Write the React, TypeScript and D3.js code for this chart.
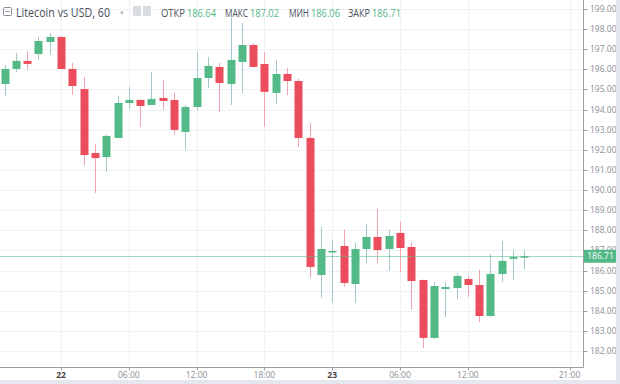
import React from "react";
import * as d3 from "d3";

const firstHour = -5;
const opens = [195.27,196.02,196.42,196.76,197.36,197.61,196.02,195.02,191.84,191.64,192.59,194.33,194.48,194.23,194.58,194.48,192.89,194.13,195.57,196.12,195.27,196.37,197.21,196.27,194.83,195.77,195.42,192.59,185.78,186.92,187.22,185.33,187.07,187.67,187.07,187.87,187.17,185.53,182.65,185.08,185.13,185.58,185.28,183.74,185.83,186.58,186.64];
const highs = [196.22,196.81,196.91,197.61,197.81,197.65,196.32,195.62,192.29,192.74,194.68,195.12,194.50,195.87,195.47,194.83,194.23,196.86,196.61,196.32,198.55,198.30,197.30,196.86,196.47,196.07,195.52,193.33,188.17,187.52,188.02,187.37,188.31,189.06,188.02,188.41,187.37,185.55,185.43,185.43,185.88,185.73,186.03,186.82,187.47,187.02,187.02];
const lows = [194.68,195.87,195.97,196.47,196.71,196.00,194.73,191.20,189.86,190.90,192.59,194.03,193.14,194.23,193.98,192.74,191.99,193.98,195.07,193.88,194.23,194.83,196.10,193.14,194.28,194.73,192.14,185.63,184.64,184.39,185.20,184.39,186.38,186.38,185.98,185.93,184.04,182.15,182.60,183.69,184.59,184.69,183.44,183.70,185.43,185.53,186.06];
const closes = [196.02,196.42,196.27,197.41,197.61,196.02,195.17,191.74,191.59,192.69,194.33,194.48,194.18,194.53,194.43,192.99,194.13,195.57,196.17,195.32,196.47,197.21,196.12,194.88,195.77,195.42,192.59,186.18,187.07,186.97,185.38,187.07,187.67,187.02,187.72,187.12,185.48,182.65,185.23,185.18,185.73,185.28,183.74,185.83,186.48,186.67,186.71];

const priceTicks = [182,183,184,185,186,187,188,189,190,191,192,193,194,195,196,197,198,199];
const timeTickHours = [0, 6, 12, 18, 24, 30, 36, 45];
const timeTickLabels = ["22", "06:00", "12:00", "18:00", "23", "06:00", "12:00", "21:00"];
const timeTickBold = [true, false, false, false, true, false, false, false];

const legendSymbol = "Litecoin vs USD, 60";
const legendLabels = ["ОТКР", "МАКС", "МИН", "ЗАКР"];
const legendValues = ["186.64", "187.02", "186.06", "186.71"];
const lastPrice = 186.71;

const UP = "#53b987";
const DOWN = "#eb4d5c";
const UP_WICK = "#a3c8cc";
const DOWN_WICK = "#f2a3ab";
const FONT = "'Open Sans', 'DejaVu Sans', sans-serif";

export default function App() {
  const W = 620, H = 384;
  const plotRight = 583.5;
  const plotBottom = 367.5;
  const y = d3.scaleLinear().domain([182, 199]).range([351, 9]);
  const x = d3.scaleLinear().domain([0, 24]).range([61, 332.2]);
  const bodyW = 8;

  const candles = opens.map((o, i) => ({
    h: firstHour + i, o, hi: highs[i], lo: lows[i], c: closes[i],
  }));

  const legendX = [161, 225, 289, 348];
  const legendLW = [24, 23, 20, 22];
  const legendVX = [187, 250, 311, 372];

  return (
    <div style={{ position: "fixed", left: 0, top: 0, width: W, height: H, background: "#fff" }}>
      <svg width={W} height={H} style={{ display: "block", fontFamily: FONT }}>
        <rect x={0} y={0} width={W} height={H} fill="#ffffff" />
        {/* grid */}
        {priceTicks.map((p) => (
          <line key={"hg" + p} x1={0} x2={plotRight} y1={Math.round(y(p)) + 0.5} y2={Math.round(y(p)) + 0.5} stroke="#eef1f6" strokeWidth={1} />
        ))}
        {timeTickHours.map((h) => (
          <line key={"vg" + h} x1={Math.round(x(h)) + 0.5} x2={Math.round(x(h)) + 0.5} y1={0} y2={plotBottom} stroke="#eef1f6" strokeWidth={1} />
        ))}
        {/* candles */}
        {candles.map((d) => {
          const up = d.c >= d.o;
          const cx = Math.round(x(d.h));
          const top = y(Math.max(d.o, d.c));
          const bot = y(Math.min(d.o, d.c));
          return (
            <g key={"c" + d.h}>
              <line x1={cx + 0.5} x2={cx + 0.5} y1={y(d.hi)} y2={y(d.lo)} stroke={up ? UP_WICK : DOWN_WICK} strokeWidth={1} />
              <rect x={cx - bodyW / 2 + 0.5} y={top} width={bodyW} height={Math.max(1.5, bot - top)} fill={up ? UP : DOWN} />
            </g>
          );
        })}
        {/* last price line */}
        <line x1={0} x2={plotRight} y1={Math.round(y(lastPrice)) + 0.5} y2={Math.round(y(lastPrice)) + 0.5} stroke={UP} strokeOpacity={0.55} strokeWidth={1} />
        {/* axes frame */}
        <line x1={plotRight} x2={plotRight} y1={0} y2={plotBottom} stroke="#9a9ea6" strokeWidth={1} />
        <line x1={0} x2={plotRight} y1={plotBottom} y2={plotBottom} stroke="#9a9ea6" strokeWidth={1} />
        {/* price axis */}
        {priceTicks.map((p) => (
          <g key={"pt" + p}>
            <line x1={plotRight} x2={plotRight + 4} y1={Math.round(y(p)) + 0.5} y2={Math.round(y(p)) + 0.5} stroke="#9a9ea6" />
            <text x={590} y={y(p)} dy="0.35em" fontSize={8.5} fill="#8a8e96">{p.toFixed(2)}</text>
          </g>
        ))}
        <rect x={584} y={y(lastPrice) - 6.5} width={33} height={13} fill={UP} />
        <text x={600.5} y={y(lastPrice)} dy="0.36em" fontSize={8.5} fill="#ffffff" textAnchor="middle">{lastPrice.toFixed(2)}</text>
        {/* time axis */}
        {timeTickHours.map((h, i) => (
          <g key={"tt" + i}>
            <line x1={Math.round(x(h)) + 0.5} x2={Math.round(x(h)) + 0.5} y1={plotBottom} y2={plotBottom + 3} stroke="#9a9ea6" />
            <text x={x(h)} y={378} fontSize={8.5} textAnchor="middle" fill={timeTickBold[i] ? "#444" : "#8a8e96"} fontWeight={timeTickBold[i] ? 700 : 400}>{timeTickLabels[i]}</text>
          </g>
        ))}
        {/* outer gray strips */}
        <rect x={616} y={0} width={4} height={H} fill="#e4e8ee" />
        <rect x={0} y={380} width={W} height={4} fill="#e4e8ee" />
        {/* legend */}
        <rect x={3.5} y={7.5} width={8} height={8} rx={1} fill="none" stroke="#8a8e96" strokeWidth={1} />
        <line x1={5.5} x2={9.5} y1={11.5} y2={11.5} stroke="#8a8e96" />
        <text x={16} y={17} fontSize={12.5} fill="#4a4f5a" textLength={94} lengthAdjust="spacingAndGlyphs">{legendSymbol}</text>
        <text x={120} y={15} fontSize={7} fill="#b0b4bc">▾</text>
        <rect x={133} y={6} width={8} height={10} fill="#d9dde3" />
        <rect x={143} y={6} width={8} height={10} fill="#d9dde3" />
        {legendLabels.map((l, i) => (
          <g key={"lg" + i}>
            <text x={legendX[i]} y={16.5} fontSize={10.5} fill="#4a4f5a" textLength={legendLW[i]} lengthAdjust="spacingAndGlyphs">{l}</text>
            <text x={legendVX[i]} y={16.5} fontSize={11} fill={UP} textLength={29} lengthAdjust="spacingAndGlyphs">{legendValues[i]}</text>
          </g>
        ))}
      </svg>
    </div>
  );
}
